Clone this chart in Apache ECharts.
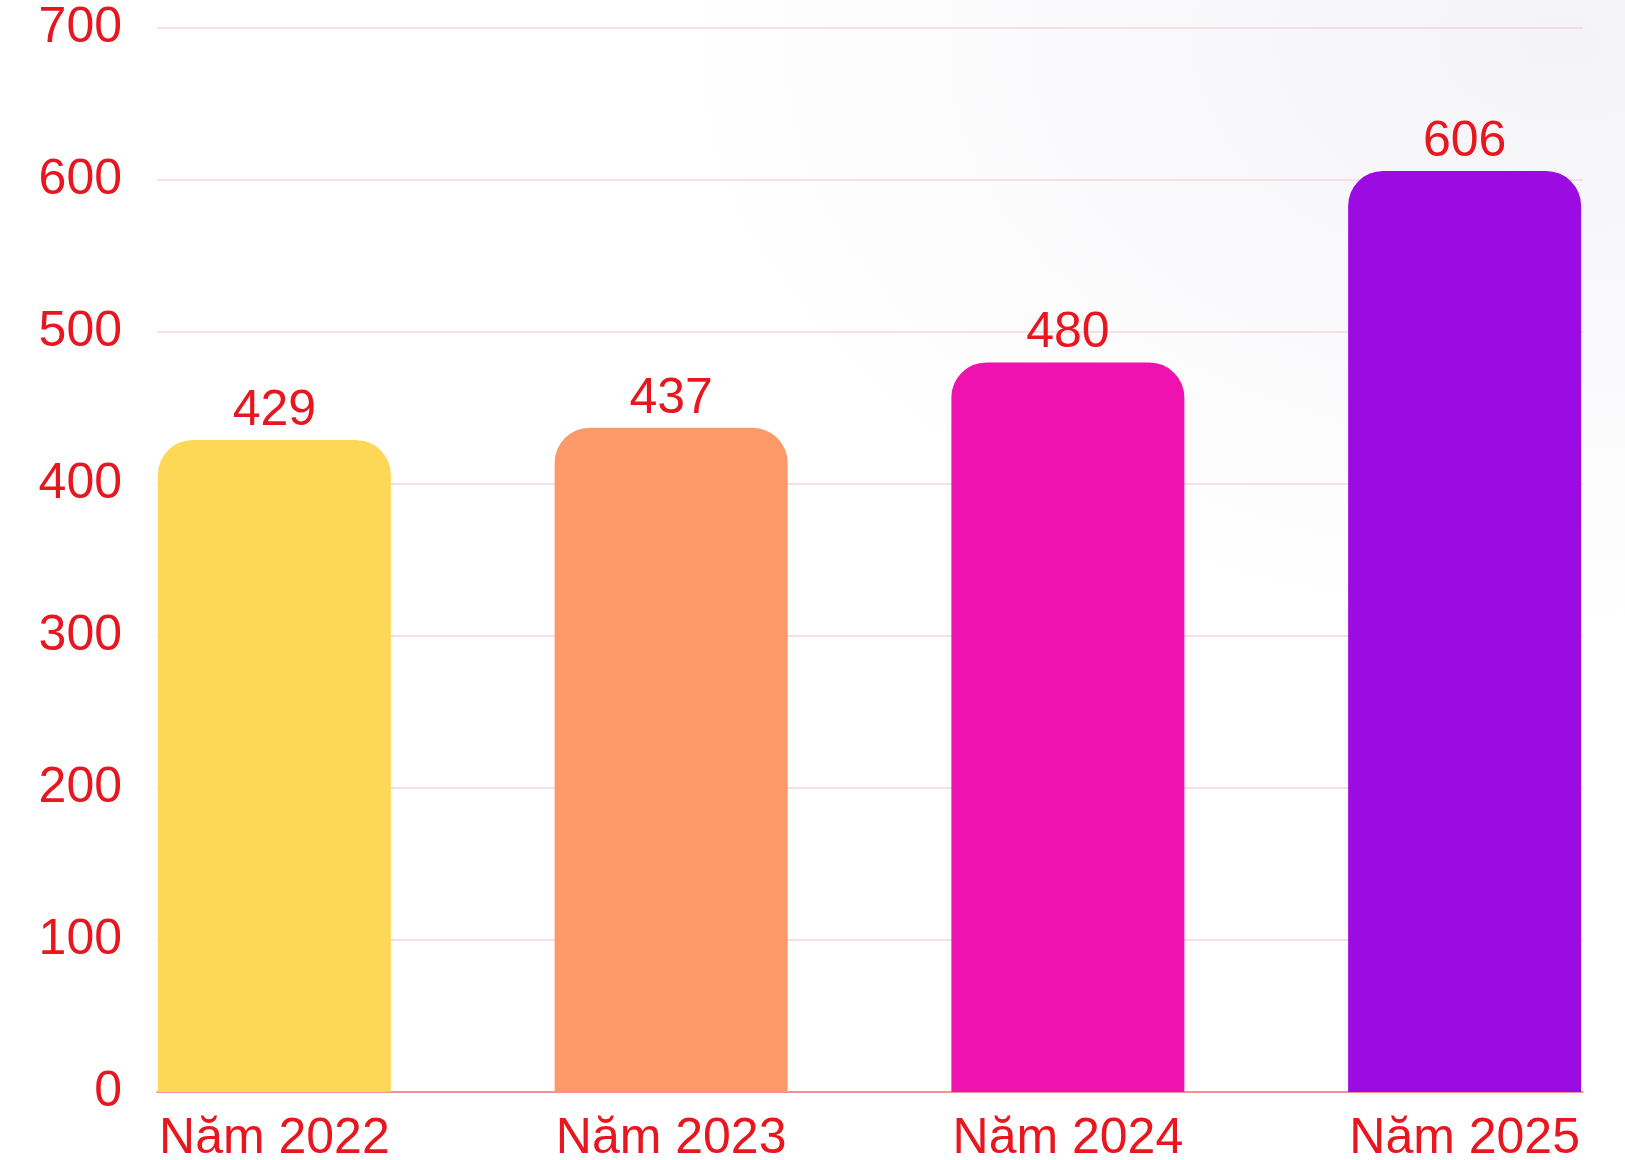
<!DOCTYPE html>
<html>
<head>
<meta charset="utf-8">
<script src="https://cdn.jsdelivr.net/npm/echarts@6/dist/echarts.min.js"></script>
<style>
    html, body {
        margin: 0;
        padding: 0;
        background: radial-gradient(ellipse 900px 600px at 1560px 40px, #f4f4f8 0%, #ffffff 100%);
    }
    #chart {
        width: 1625px;
        height: 1160px;
    }
</style>
</head>
<body>
<div id="chart"></div>
<script>
    // data
    var categories = ['Năm 2022', 'Năm 2023', 'Năm 2024', 'Năm 2025'];
    var values = [429, 437, 480, 606];
    var barColors = ['#fcd856', '#fb9a68', '#ee13b0', '#9d0be3'];
    var yTicks = [0, 100, 200, 300, 400, 500, 600, 700];

    var red = '#e8161e';
    var font = "'Liberation Sans', Arial, sans-serif";

    var myChart = echarts.init(document.getElementById('chart'), null, {renderer: 'canvas'});
    myChart.setOption({
        backgroundColor: 'transparent',
        animation: false,
        grid: [
            // grid for the value axis and gridlines
            {left: 157, right: 42, top: 28, bottom: 68, outerBoundsMode: 'none'},
            // wider grid so the bars line up with the plot edges
            {left: 76, right: -38, top: 28, bottom: 68, outerBoundsMode: 'none'}
        ],
        xAxis: [
            {
                gridIndex: 0,
                type: 'category',
                data: categories,
                axisLine: {lineStyle: {color: '#f07a7e', width: 1.5}},
                axisTick: {show: false},
                axisLabel: {show: false}
            },
            {
                gridIndex: 1,
                type: 'category',
                data: categories,
                axisLine: {show: false},
                axisTick: {show: false},
                axisLabel: {color: red, fontSize: 50, fontFamily: font, margin: 22}
            }
        ],
        yAxis: [
            {
                gridIndex: 0,
                type: 'value',
                min: yTicks[0],
                max: yTicks[yTicks.length - 1],
                interval: 100,
                axisLine: {show: false},
                axisTick: {show: false},
                axisLabel: {color: red, fontSize: 50, fontFamily: font, margin: 35},
                splitLine: {lineStyle: {color: '#f7d3db', width: 1.5}}
            },
            {
                gridIndex: 1,
                type: 'value',
                min: yTicks[0],
                max: yTicks[yTicks.length - 1],
                show: false,
                splitLine: {show: false}
            }
        ],
        series: [
            {
                type: 'bar',
                xAxisIndex: 1,
                yAxisIndex: 1,
                barWidth: 233,
                data: values.map(function (v, i) {
                    return {value: v, itemStyle: {color: barColors[i]}};
                }),
                itemStyle: {borderRadius: [35, 35, 0, 0]},
                label: {
                    show: true,
                    position: 'top',
                    distance: 4,
                    color: red,
                    fontSize: 50,
                    fontFamily: font
                }
            }
        ]
    });
</script>
</body>
</html>
